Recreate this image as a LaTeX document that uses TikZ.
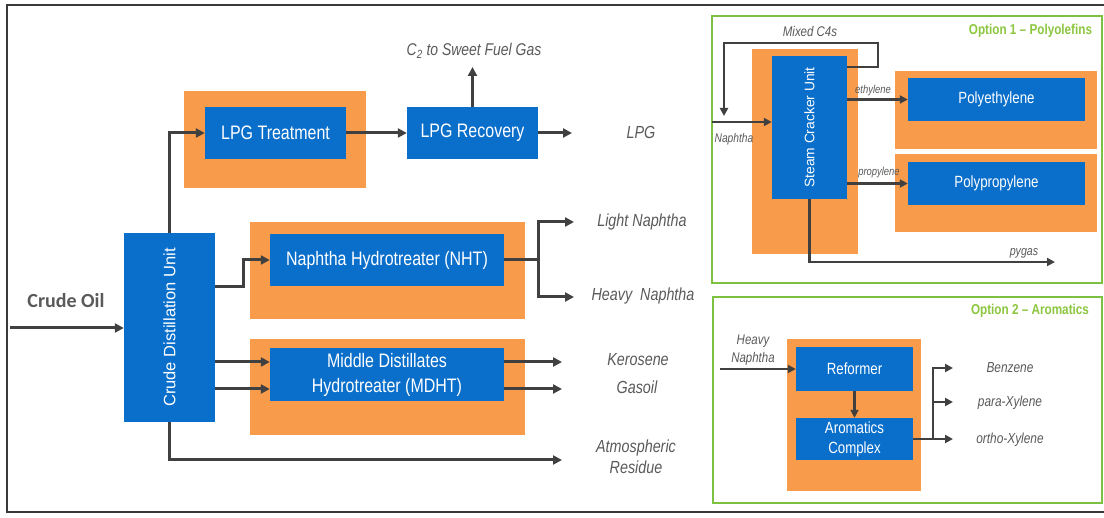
\documentclass[tikz,border=0pt]{standalone}
\usepackage{fontspec}
\setmainfont{Liberation Sans}
\newfontfamily\narf{Liberation Sans}[FakeStretch=0.82]
\newfontfamily\carf{Carlito}
\usetikzlibrary{arrows.meta,calc}
\definecolor{cblue}{HTML}{0A6FCB}
\definecolor{corange}{HTML}{F89B4A}
\definecolor{cgreen}{HTML}{7CC142}
\definecolor{cgreent}{HTML}{8CC63F}
\definecolor{cline}{HTML}{404040}
\definecolor{cgray}{HTML}{5A5A5A}
\definecolor{cframe}{HTML}{3A3A3A}
\tikzset{
  bluebox/.style={fill=cblue, draw=none, text=white, inner sep=0pt, align=center,
    font=\narf\fontsize{19.5}{25}\selectfont},
  bluesm/.style={bluebox, font=\narf\fontsize{16.2}{20}\selectfont},
  orangebox/.style={fill=corange, draw=none, inner sep=0pt},
  greenframe/.style={draw=cgreen, line width=2.2pt, fill=none, inner sep=0pt},
  flow/.style={draw=cline, line width=3pt, -{Triangle[length=9pt,width=9pt]}},
  flowsm/.style={draw=cline, line width=2.4pt, -{Triangle[length=8pt,width=8pt]}},
  lbl/.style={text=cgray, inner sep=0pt, align=center, font=\narf\itshape\fontsize{17.5}{21}\selectfont},
  lblsm/.style={text=cgray, inner sep=0pt, align=center, font=\narf\itshape\fontsize{14}{18}\selectfont},
  lbltiny/.style={text=cgray, inner sep=0pt, font=\narf\itshape\fontsize{11.5}{13}\selectfont},
  title/.style={text=cgreent, inner sep=0pt, font=\narf\bfseries\fontsize{14.3}{17}\selectfont},
  rottext/.style={text=white, rotate=90, inner sep=0pt},
}
\begin{document}
\begin{tikzpicture}[x=1pt,y=-1pt]
\fill[white] (0,0) rectangle (1104,518);
\useasboundingbox (0,0) rectangle (1104,518);
% outer frame
\draw[draw=cframe, line width=2pt] (1104,5) -- (7,5) -- (7,512) -- (1104,512);

% ---------- main refinery ----------
\node[orangebox, minimum width=182pt, minimum height=97pt] (lpgo) at (275,139.5) {};
\node[orangebox, minimum width=275pt, minimum height=97pt] (nhto) at (387.5,270.5) {};
\node[orangebox, minimum width=275pt, minimum height=96pt] (mdhto) at (387.5,387) {};

\node[bluebox, minimum width=91pt, minimum height=189pt] (cdu) at (169.5,327.5) {};
\node[rottext, font=\fontsize{16.5}{19}\selectfont] (cdutext) at (cdu.center) {Crude Distillation Unit};
\node[bluebox, minimum width=141pt, minimum height=52pt] (lpgt) at (275.5,133) {LPG Treatment};
\node[bluebox, minimum width=131pt, minimum height=52pt] (lpgr) at (472.5,133) {LPG Recovery};
\node[bluebox, minimum width=234pt, minimum height=52pt] (nht) at (387,260) {Naphtha Hydrotreater (NHT)};
\node[bluebox, minimum width=234pt, minimum height=53pt] (mdht) at (387,374.5) {Middle Distillates\\Hydrotreater (MDHT)};

\node[text=cgray, inner sep=0pt, font=\carf\bfseries\fontsize{20}{24}\selectfont] (crude) at (66,301) {Crude Oil};
\coordinate (crin) at (10,328);
\draw[flow] (crin) -- (crin -| cdu.west);

\draw[flow] (cdu.north) |- (lpgt.west);
\draw[flow] (lpgt.east) -- (lpgr.west);
\coordinate (c2end) at (472.5,67);
\draw[flow] (lpgr.north) -- (c2end);
\node[lbl, font=\narf\itshape\fontsize{17}{20}\selectfont] (c2) at (474,51) {C\textsubscript{2} to Sweet Fuel Gas};
\coordinate (lpgend) at (572,133);
\draw[flow] (lpgr.east) -- (lpgend);
\node[lbl] (lpgl) at (641,132) {LPG};

\coordinate (nhtin) at (243,287);
\draw[flow] (nhtin -| cdu.east) -- (nhtin) |- (nht.west);
\coordinate (nsplit) at (538,260);
\coordinate (lnend) at (574,222);
\coordinate (hnend) at (574,297);
\draw[flow] (nht.east) -- (nsplit) |- (lnend);
\draw[flow] (nsplit) |- (hnend);
\node[lbl] (ln) at (642,222) {Light Naphtha};
\node[lbl] (hn) at (643,296) {Heavy\ \ Naphtha};

\coordinate (kro) at (0,362);
\coordinate (gro) at (0,389);
\draw[flow] (cdu.east |- kro) -- (mdht.west |- kro);
\draw[flow] (cdu.east |- gro) -- (mdht.west |- gro);
\coordinate (kend) at (562,362);
\coordinate (gend) at (562,389);
\draw[flow] (mdht.east |- kend) -- (kend);
\draw[flow] (mdht.east |- gend) -- (gend);
\node[lbl] (kero) at (638,360) {Kerosene};
\node[lbl] (gas) at (637,387) {Gasoil};
\coordinate (rend) at (562,460);
\draw[flow] (cdu.south) |- (rend);
\node[lbl] (res) at (636,457) {Atmospheric\\Residue};

% ---------- Option 1 ----------
\node[greenframe, minimum width=390pt, minimum height=267pt] (opt1) at (907,149.5) {};
\node[title] (t1) at (1030.5,31) {Option 1 – Polyolefins};
\node[orangebox, minimum width=106pt, minimum height=205pt] (scuo) at (805,151.5) {};
\node[orangebox, minimum width=202pt, minimum height=78pt] (peo) at (996,110) {};
\node[orangebox, minimum width=202pt, minimum height=78pt] (ppo) at (996,193) {};
\node[bluebox, minimum width=75pt, minimum height=143pt] (scu) at (809.5,127.5) {};
\node[rottext, font=\fontsize{13.8}{16}\selectfont] (scutext) at (scu.center) {Steam Cracker Unit};
\node[bluesm, minimum width=177pt, minimum height=43pt] (pe) at (996.5,99.5) {Polyethylene};
\node[bluesm, minimum width=177pt, minimum height=43pt] (pp) at (996.5,183.5) {Polypropylene};

\coordinate (m1) at (878,67);
\coordinate (m2) at (878,43);
\coordinate (m3) at (724,43);
\coordinate (m4) at (724,116);
\draw[flowsm] (scu.east |- m1) -- (m1) -- (m2) -- (m3) -- (m4);
\node[lblsm] (mc4) at (810,32) {Mixed C4s};
\coordinate (nin) at (712,122);
\draw[flowsm] (nin) -- (nin -| scu.west);
\node[lblsm, font=\narf\itshape\fontsize{12.5}{15}\selectfont] (nap) at (734,139) {Naphtha};
\draw[flowsm] (scu.east |- pe.west) -- (pe.west);
\node[lbltiny] (eth) at (873,91) {ethylene};
\draw[flowsm] (scu.east |- pp.west) -- (pp.west);
\node[lbltiny] (pro) at (879,173) {propylene};
\coordinate (pyend) at (1055,262);
\draw[flowsm] (scu.south) |- (pyend);
\node[lblsm, font=\narf\itshape\fontsize{13}{15}\selectfont] (pyg) at (1024,253) {pygas};

% ---------- Option 2 ----------
\node[greenframe, minimum width=389pt, minimum height=206pt] (opt2) at (907.5,400) {};
\node[title] (t2) at (1030,311) {Option 2 – Aromatics};
\node[orangebox, minimum width=134pt, minimum height=152pt] (aro) at (854,415) {};
\node[bluesm, minimum width=117pt, minimum height=44pt] (refm) at (854.5,369) {Reformer};
\node[bluesm, minimum width=117pt, minimum height=42pt, font=\narf\fontsize{16.2}{20}\selectfont] (arc) at (854.5,439) {Aromatics\\Complex};
\coordinate (hnin) at (720,369);
\draw[flowsm] (hnin) -- (refm.west);
\node[lblsm, font=\narf\itshape\fontsize{14}{18}\selectfont] (hnl) at (753,350) {Heavy\\Naphtha};
\draw[flowsm] (refm.south) -- (arc.north);
\coordinate (split) at (933,439);
\coordinate (bzend) at (953,368);
\coordinate (pxend) at (953,402);
\coordinate (oxend) at (953,439);
\draw[flowsm] (arc.east) -- (split) |- (bzend);
\draw[flowsm] (split |- pxend) -- (pxend);
\draw[flowsm] (split) -- (oxend);
\node[lblsm, font=\narf\itshape\fontsize{14.5}{18}\selectfont] (bz) at (1010,368) {Benzene};
\node[lblsm, font=\narf\itshape\fontsize{14.5}{18}\selectfont] (px) at (1010,403) {para-Xylene};
\node[lblsm, font=\narf\itshape\fontsize{14.5}{18}\selectfont] (ox) at (1010,440) {ortho-Xylene};
\end{tikzpicture}
\end{document}
